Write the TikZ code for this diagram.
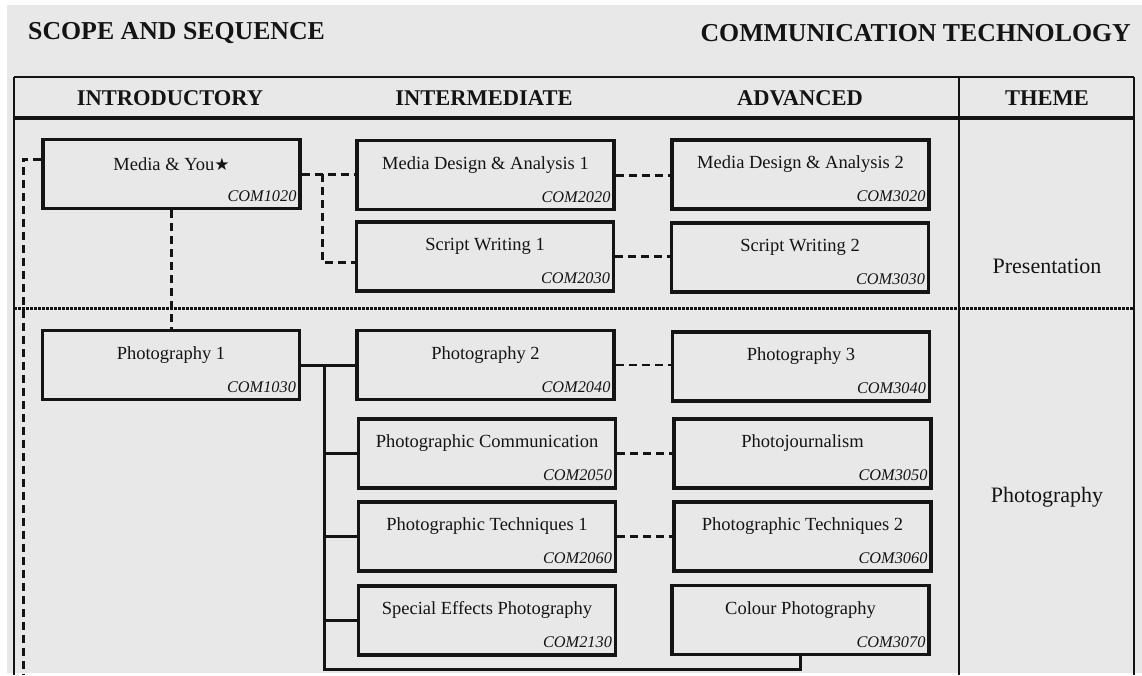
\documentclass[tikz,border=0pt]{standalone}
\usepackage{fontspec}
\setmainfont{Liberation Serif}
\newfontfamily\symfont{DejaVu Sans}
\definecolor{paper}{RGB}{232,232,232}
\definecolor{ink}{RGB}{20,20,20}

% course box: name, centre x, centre y, title, code
\newcommand\coursebox[5]{%
  \node[course] (#1) at (#2,#3) {};
  \node[ctitle] (#1-t) at ([yshift=-26pt]#1.north) {#4};
  \node[ccode] (#1-c) at ([xshift=-5pt,yshift=14pt]#1.south east) {#5};
}

\begin{document}
\begin{tikzpicture}[x=1pt,y=-1pt,
  every node/.style={text=ink},
  course/.style={draw=ink, line width=3.2pt, minimum width=257pt, minimum height=69pt, inner sep=0pt},
  ctitle/.style={font=\fontsize{18.5}{20}\selectfont, inner sep=0pt},
  ccode/.style={font=\fontsize{16.3}{18}\selectfont\itshape, inner sep=0pt, anchor=east},
  link/.style={draw=ink, line width=3pt, dash pattern=on 8pt off 5pt},
  thinlink/.style={draw=ink, line width=2.4pt, dash pattern=on 8pt off 5pt},
  tree/.style={draw=ink, line width=3pt},
  rule/.style={draw=ink, line width=2pt},
  dotsep/.style={draw=ink, line width=3pt, dash pattern=on 3pt off 1pt},
  head/.style={font=\fontsize{22.5}{24}\selectfont\bfseries, inner sep=0pt},
  maintitle/.style={font=\fontsize{25.8}{28}\selectfont\bfseries, inner sep=0pt},
  theme/.style={font=\fontsize{22}{24}\selectfont, inner sep=0pt},
]
\useasboundingbox (0,0) rectangle (1142,675);
\fill[white] (0,0) rectangle (1142,675);
\fill[paper] (7,5) rectangle (1142,673);

% page headings
\node[maintitle, anchor=west] (scope) at (28,33) {SCOPE AND SEQUENCE};
\node[maintitle, anchor=east] (subject) at (1131,33) {COMMUNICATION TECHNOLOGY};

% table frame
\draw[rule] (14,77) -- (1134,77);
\draw[draw=ink, line width=3.4pt] (14,118) -- (1134,118);
\draw[rule] (14,77) -- (14,675);
\draw[rule] (959,77) -- (959,675);
\draw[rule] (1134,77) -- (1134,675);
\draw[dotsep] (14,308) -- (1134,308);

% column headings
\node[head] (h1) at (170,98) {INTRODUCTORY};
\node[head] (h2) at (484,98) {INTERMEDIATE};
\node[head] (h3) at (800,98) {ADVANCED};
\node[head] (h4) at (1047,98) {THEME};

% themes
\node[theme] (th1) at (1047,266) {Presentation};
\node[theme] (th2) at (1047,497) {Photography};

% courses
\coursebox{mya}{171.5}{174}{Media \& You{\symfont\fontsize{17}{17}\selectfont ★}}{COM1020}
\coursebox{mda1}{485.5}{175}{Media Design \& Analysis 1}{COM2020}
\coursebox{mda2}{800.5}{174.5}{Media Design \& Analysis 2}{COM3020}
\coursebox{sw1}{485}{256.5}{Script Writing 1}{COM2030}
\coursebox{sw2}{800}{257.5}{Script Writing 2}{COM3030}
\coursebox{p1}{171}{365}{Photography 1}{COM1030}
\coursebox{p2}{485.5}{365}{Photography 2}{COM2040}
\coursebox{p3}{801}{366.5}{Photography 3}{COM3040}
\coursebox{pc}{487}{453.5}{Photographic Communication}{COM2050}
\coursebox{pj}{802.5}{453.5}{Photojournalism}{COM3050}
\coursebox{pt1}{487}{536.5}{Photographic Techniques 1}{COM2060}
\coursebox{pt2}{802.5}{536.5}{Photographic Techniques 2}{COM3060}
\coursebox{se}{487}{620.5}{Special Effects Photography}{COM2130}
\coursebox{col}{800.5}{620}{Colour Photography}{COM3070}

% presentation links
\coordinate (leftend) at (23,675);
\draw[link] ([yshift=15pt]mya.west) -| (leftend);
\draw[link] (mya.east) -- (mda1.west |- mya.east);
\coordinate (split) at (322,174);
\draw[link] (split) |- ([yshift=-5.5pt]sw1.west);
\draw[link] (mda1.east) -- (mda2.west |- mda1.east);
\draw[link] (sw1.east) -- (sw2.west |- sw1.east);
\draw[link] (mya.south) -- (p1.north -| mya.south);

% photography tree
\draw[tree] (p1.east) -- (p2.west);
\coordinate (trunk) at (324,365);
\coordinate (trunkend) at (324,669);
\draw[tree] (trunk) -- (trunkend) -| (col.south);
\draw[tree] (trunk |- pc.west) -- (pc.west);
\draw[tree] (trunk |- pt1.west) -- (pt1.west);
\draw[tree] (trunk |- se.west) -- (se.west);

% photography links
\draw[thinlink] (p2.east) -- (p3.west |- p2.east);
\draw[thinlink] (pc.east) -- (pj.west);
\draw[thinlink] (pt1.east) -- (pt2.west);
\end{tikzpicture}
\end{document}
